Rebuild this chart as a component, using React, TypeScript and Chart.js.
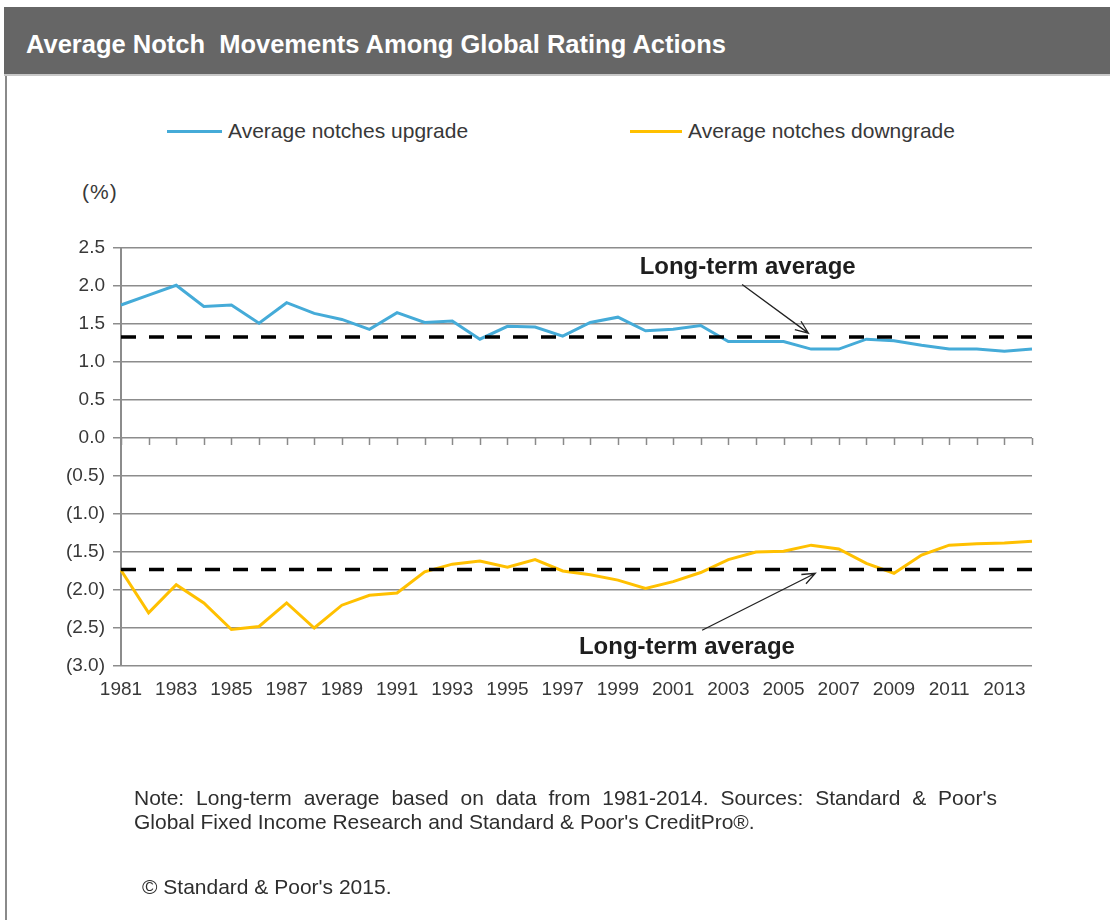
import React, { useEffect, useRef } from "react";
import { Chart, registerables } from "chart.js";

Chart.register(...registerables);

const years = [
  "1981", "1982", "1983", "1984", "1985", "1986", "1987", "1988", "1989", "1990",
  "1991", "1992", "1993", "1994", "1995", "1996", "1997", "1998", "1999", "2000",
  "2001", "2002", "2003", "2004", "2005", "2006", "2007", "2008", "2009", "2010",
  "2011", "2012", "2013", "2014",
];

const upgrade = [
  1.75, 1.88, 2.01, 1.73, 1.75, 1.51, 1.78, 1.64, 1.56, 1.43,
  1.65, 1.52, 1.54, 1.30, 1.47, 1.46, 1.34, 1.52, 1.59, 1.41,
  1.43, 1.48, 1.27, 1.27, 1.27, 1.17, 1.17, 1.30, 1.28, 1.22,
  1.17, 1.17, 1.14, 1.17,
];

const downgrade = [
  -1.74, -2.30, -1.93, -2.17, -2.52, -2.48, -2.17, -2.50, -2.20, -2.07,
  -2.04, -1.76, -1.66, -1.62, -1.70, -1.60, -1.75, -1.80, -1.87, -1.98,
  -1.89, -1.77, -1.60, -1.50, -1.49, -1.41, -1.46, -1.65, -1.78, -1.54,
  -1.41, -1.39, -1.38, -1.36,
];

const upgradeAverage = 1.33;
const downgradeAverage = -1.73;

const yMin = -3;
const yMax = 2.5;
const yStep = 0.5;

const seriesNames = ["Average notches upgrade", "Average notches downgrade"];
const seriesColors = ["#45ABD8", "#FFC000"];
const annotationText = "Long-term average";

const FONT = "'Liberation Sans', Arial, Helvetica, sans-serif";
const TEXT = "#383838";

function fmt(v: number) {
  if (Math.abs(v) < 1e-9) return "0.0";
  return v > 0 ? v.toFixed(1) : `(${Math.abs(v).toFixed(1)})`;
}

function drawArrow(ctx: CanvasRenderingContext2D, x1: number, y1: number, x2: number, y2: number) {
  const ang = Math.atan2(y2 - y1, x2 - x1);
  const head = 14;
  const spread = 0.38;
  ctx.beginPath();
  ctx.moveTo(x1, y1);
  ctx.lineTo(x2, y2);
  ctx.moveTo(x2 - head * Math.cos(ang - spread), y2 - head * Math.sin(ang - spread));
  ctx.lineTo(x2, y2);
  ctx.lineTo(x2 - head * Math.cos(ang + spread), y2 - head * Math.sin(ang + spread));
  ctx.stroke();
}

const extrasPlugin = {
  id: "extras",
  afterDatasetsDraw(chart: any) {
    const { ctx, scales } = chart;
    const x = scales.x;
    const y = scales.y;
    const y0 = y.getPixelForValue(0);
    ctx.save();
    ctx.strokeStyle = "#8a8a8a";
    ctx.lineWidth = 1.5;
    for (let i = 0; i < years.length; i++) {
      const px = Math.round(x.getPixelForValue(i)) + 0.5;
      ctx.beginPath();
      ctx.moveTo(px, y0);
      ctx.lineTo(px, y0 + 7);
      ctx.stroke();
    }
    ctx.fillStyle = "#1e1e1e";
    ctx.font = `bold 24px ${FONT}`;
    ctx.textAlign = "center";
    ctx.textBaseline = "middle";
    ctx.fillText(annotationText, x.getPixelForValue(22.7), y.getPixelForValue(2.25));
    ctx.fillText(annotationText, x.getPixelForValue(20.5), y.getPixelForValue(-2.76));
    ctx.strokeStyle = "#222";
    ctx.lineWidth = 1.3;
    drawArrow(ctx, x.getPixelForValue(22.5), y.getPixelForValue(2.02), x.getPixelForValue(24.9), y.getPixelForValue(1.38));
    drawArrow(ctx, x.getPixelForValue(21.05), y.getPixelForValue(-2.53), x.getPixelForValue(25.15), y.getPixelForValue(-1.78));
    ctx.restore();
  },
};

export default function App() {
  const ref = useRef<HTMLCanvasElement | null>(null);

  useEffect(() => {
    if (!ref.current) return;
    const chart = new Chart(ref.current, {
      type: "line",
      data: {
        labels: years,
        datasets: [
          {
            label: "upgrade avg",
            data: [
              { x: years[0], y: upgradeAverage },
              { x: years[years.length - 1], y: upgradeAverage },
            ] as any,
            borderColor: "#000",
            borderWidth: 3.5,
            borderDash: [15, 13],
            pointRadius: 0,
            order: 0,
          },
          {
            label: "downgrade avg",
            data: [
              { x: years[0], y: downgradeAverage },
              { x: years[years.length - 1], y: downgradeAverage },
            ] as any,
            borderColor: "#000",
            borderWidth: 3.5,
            borderDash: [15, 13],
            pointRadius: 0,
            order: 0,
          },
          {
            label: seriesNames[0],
            data: upgrade,
            borderColor: seriesColors[0],
            borderWidth: 3,
            pointRadius: 0,
            tension: 0,
            order: 1,
          },
          {
            label: seriesNames[1],
            data: downgrade,
            borderColor: seriesColors[1],
            borderWidth: 3,
            pointRadius: 0,
            tension: 0,
            order: 1,
          },
        ],
      },
      options: {
        animation: false,
        responsive: false,
        devicePixelRatio: 1,
        layout: { padding: { left: 0, top: 248, right: 78, bottom: 214 } },
        plugins: { legend: { display: false }, tooltip: { enabled: false }, title: { display: false } },
        scales: {
          x: {
            type: "category",
            offset: false,
            grid: { display: false, drawTicks: false },
            border: { display: false },
            ticks: {
              autoSkip: false,
              maxRotation: 0,
              minRotation: 0,
              padding: 12,
              color: TEXT,
              font: { family: FONT, size: 19 },
              callback: (_v: any, i: number) => (i % 2 === 0 ? years[i] : ""),
            },
            afterFit: (s: any) => {
              s.height = 40;
            },
          },
          y: {
            min: yMin,
            max: yMax,
            grid: { color: "#8c8c8c", lineWidth: 1.5, tickLength: 8 },
            border: { color: "#8c8c8c", width: 2 },
            ticks: {
              stepSize: yStep,
              padding: 8,
              color: TEXT,
              font: { family: FONT, size: 19 },
              callback: (v: any) => fmt(Number(v)),
            },
            afterFit: (s: any) => {
              s.width = 121;
            },
          },
        },
      },
      plugins: [extrasPlugin],
    });
    return () => chart.destroy();
  }, []);

  const legendItem = (i: number, left: number, lineW: number) => (
    <div style={{ position: "absolute", left, top: 118, height: 26, display: "flex", alignItems: "center" }}>
      <div style={{ width: lineW, height: 3, background: seriesColors[i], marginRight: 6 }} />
      <span style={{ fontSize: 21, color: TEXT, fontFamily: FONT }}>{seriesNames[i]}</span>
    </div>
  );

  return (
    <div style={{ position: "fixed", left: 0, top: 0, width: 1110, height: 920, background: "#fff", overflow: "hidden", fontFamily: FONT }}>
      <div style={{ position: "absolute", left: 4, top: 7, width: 1106, height: 67, background: "#666666", borderBottom: "2px solid #c8c8c8" }} />
      <div style={{ position: "absolute", left: 26, top: 28, color: "#fff", fontWeight: "bold", fontSize: 25.5, whiteSpace: "pre", lineHeight: "32px" }}>
        {"Average Notch  Movements Among Global Rating Actions"}
      </div>
      <div style={{ position: "absolute", left: 5, top: 76, width: 2, height: 844, background: "#8a8a8a" }} />
      {legendItem(0, 167, 55)}
      {legendItem(1, 630, 52)}
      <div style={{ position: "absolute", left: 82, top: 180, fontSize: 21, color: TEXT, letterSpacing: 1 }}>(%)</div>
      <canvas ref={ref} width={1110} height={920} style={{ position: "absolute", left: 0, top: 0, width: 1110, height: 920 }} />
      <div style={{ position: "absolute", left: 134, top: 786, width: 863, fontSize: 21, color: "#2e2e2e", lineHeight: "24px" }}>
        <div style={{ textAlign: "justify", textAlignLast: "justify" as any }}>
          Note: Long-term average based on data from 1981-2014. Sources: Standard &amp; Poor's
        </div>
        <div>Global Fixed Income Research and Standard &amp; Poor's CreditPro®.</div>
      </div>
      <div style={{ position: "absolute", left: 142, top: 875, fontSize: 21, color: "#2e2e2e" }}>© Standard &amp; Poor's 2015.</div>
    </div>
  );
}
